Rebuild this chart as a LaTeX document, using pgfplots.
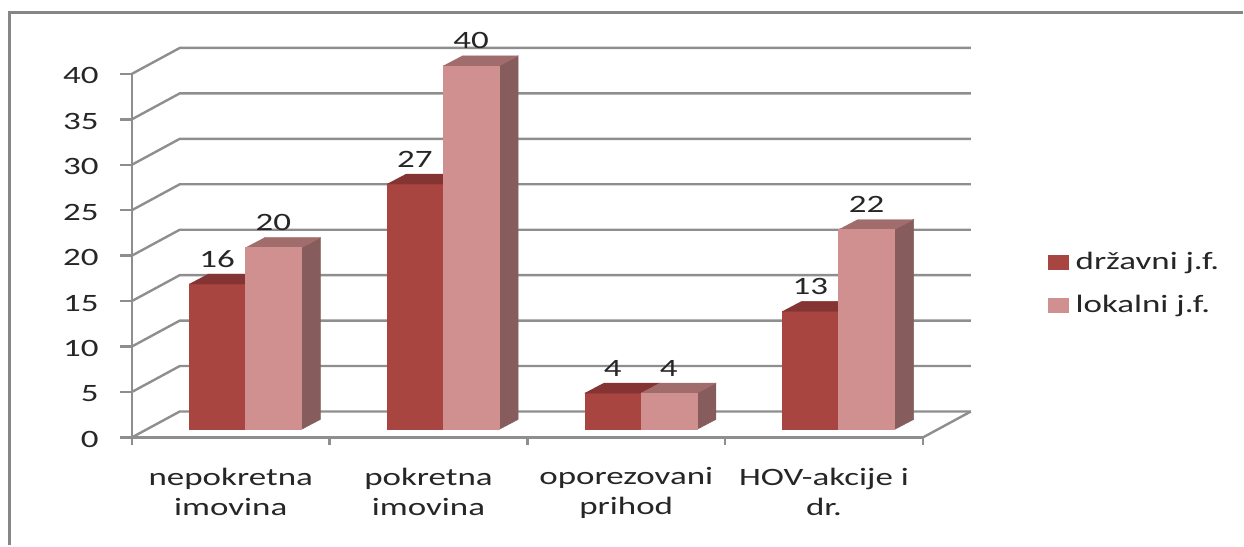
\documentclass[border=0pt]{standalone}
\usepackage{fontspec}
\setmainfont[FakeStretch=1.4]{Carlito}
\usepackage{pgfplots}
\pgfplotsset{compat=1.18}

\definecolor{gridc}{HTML}{8E8E8E}
\definecolor{framec}{HTML}{868686}
\definecolor{textc}{HTML}{262626}
\definecolor{darkf}{HTML}{A84540}
\definecolor{darkt}{HTML}{843432}
\definecolor{lightf}{HTML}{D09090}
\definecolor{lightt}{HTML}{A06C6C}
\definecolor{lights}{HTML}{865C5C}

% depth of wall and of bars, in axis units (1 = 198 px in x, 9.1 px in y)
\def\wx{0.2424}\def\wy{2.857}
\def\fx{0.0732}\def\fy{0.88}
\def\bx{0.096}\def\by{1.099}
\def\bw{0.284}

% #1 category, #2 state value, #3 local value
\newcommand{\bars}[3]{%
  \addplot[fill=darkf,draw=darkf,line width=0.2pt,forget plot] coordinates {
    (#1+.5+\fx-\bw,\fy) (#1+.5+\fx,\fy) (#1+.5+\fx,#2+\fy) (#1+.5+\fx-\bw,#2+\fy)};
  \addplot[fill=darkt,draw=darkt,line width=0.2pt,forget plot] coordinates {
    (#1+.5+\fx-\bw,#2+\fy) (#1+.5+\fx,#2+\fy) (#1+.5+\fx+\bx,#2+\fy+\by) (#1+.5+\fx-\bw+\bx,#2+\fy+\by)};
  \addplot[fill=lights,draw=lights,line width=0.2pt,forget plot] coordinates {
    (#1+.5+\fx+\bw,\fy) (#1+.5+\fx+\bw+\bx,\fy+\by) (#1+.5+\fx+\bw+\bx,#3+\fy+\by) (#1+.5+\fx+\bw,#3+\fy)};
  \addplot[fill=lightt,draw=lightt,line width=0.2pt,forget plot] coordinates {
    (#1+.5+\fx,#3+\fy) (#1+.5+\fx+\bw,#3+\fy) (#1+.5+\fx+\bw+\bx,#3+\fy+\by) (#1+.5+\fx+\bx,#3+\fy+\by)};
  \addplot[fill=lightf,draw=lightf,line width=0.2pt,forget plot] coordinates {
    (#1+.5+\fx,\fy) (#1+.5+\fx+\bw,\fy) (#1+.5+\fx+\bw,#3+\fy) (#1+.5+\fx,#3+\fy)};
  \node[text=textc] at (axis cs:#1+.5+\fx-\bw/2,#2+\fy+\by+1.65) {#2};
  \node[text=textc] at (axis cs:#1+.5+\fx+\bw/2,#3+\fy+\by+1.65) {#3};
}

\begin{document}
\begin{tikzpicture}[every node/.append style={font=\fontsize{12.5}{15}\selectfont}]
\begin{axis}[
    scale only axis,
    width=396pt, height=182pt,
    xmin=0, xmax=4, ymin=0, ymax=40,
    clip=false,
    axis x line=bottom, axis y line=left,
    axis line style={-, gridc, line width=1.2pt},
    tick style={gridc, line width=1.2pt},
    tick align=outside,
    major tick length=4pt,
    xtick={0,1,2,3,4}, xticklabels={},
    extra x ticks={0.5,1.5,2.5,3.5},
    extra x tick labels={nepokretna\\imovina,pokretna\\imovina,oporezovani\\prihod,HOV-akcije i\\dr.},
    extra x tick style={major tick length=0pt, xticklabel style={align=center, yshift=-15pt}},
    ytick={0,5,...,40},
    tick label style={text=textc, inner sep=0pt},
    yticklabel style={xshift=-12.5pt, yshift=-1pt},
    /pgf/number format/assume math mode=true,
    legend style={at={(axis cs:4.63,20.9)}, anchor=north west, draw=none, fill=none,
      row sep=7.3pt, inner sep=0pt, text=textc},
    legend cell align=left,
    legend image code/.code={\fill[#1] (0pt,-3.5pt) rectangle (10pt,3.5pt); \path (11.5pt,0pt);},
]
% frame of the chart area and page extent
\path (axis cs:-0.6667,48.13) rectangle (axis cs:5.6162,-11.868);
\draw[framec,line width=1.5pt] (axis cs:-0.6162,-11.868) -- (axis cs:-0.6162,46.7) -- (axis cs:5.6162,46.7);

% walls
\pgfplotsinvokeforeach{0,5,...,40}{
  \addplot[gridc,line width=1.2pt,forget plot] coordinates {(0,#1) (\wx,#1+\wy) (4+\wx,#1+\wy)};
  \addplot[gridc,line width=1.2pt,forget plot] coordinates {(-0.0606,#1) (0,#1)};
}
\addplot[gridc,line width=1.2pt,forget plot] coordinates {(4,0) (4+\wx,\wy)};

\bars{0}{16}{20}
\bars{1}{27}{40}
\bars{2}{4}{4}
\bars{3}{13}{22}

\addlegendimage{darkf}
\addlegendentry{državni j.f.}
\addlegendimage{lightf}
\addlegendentry{lokalni j.f.}
\end{axis}
\end{tikzpicture}
\end{document}
